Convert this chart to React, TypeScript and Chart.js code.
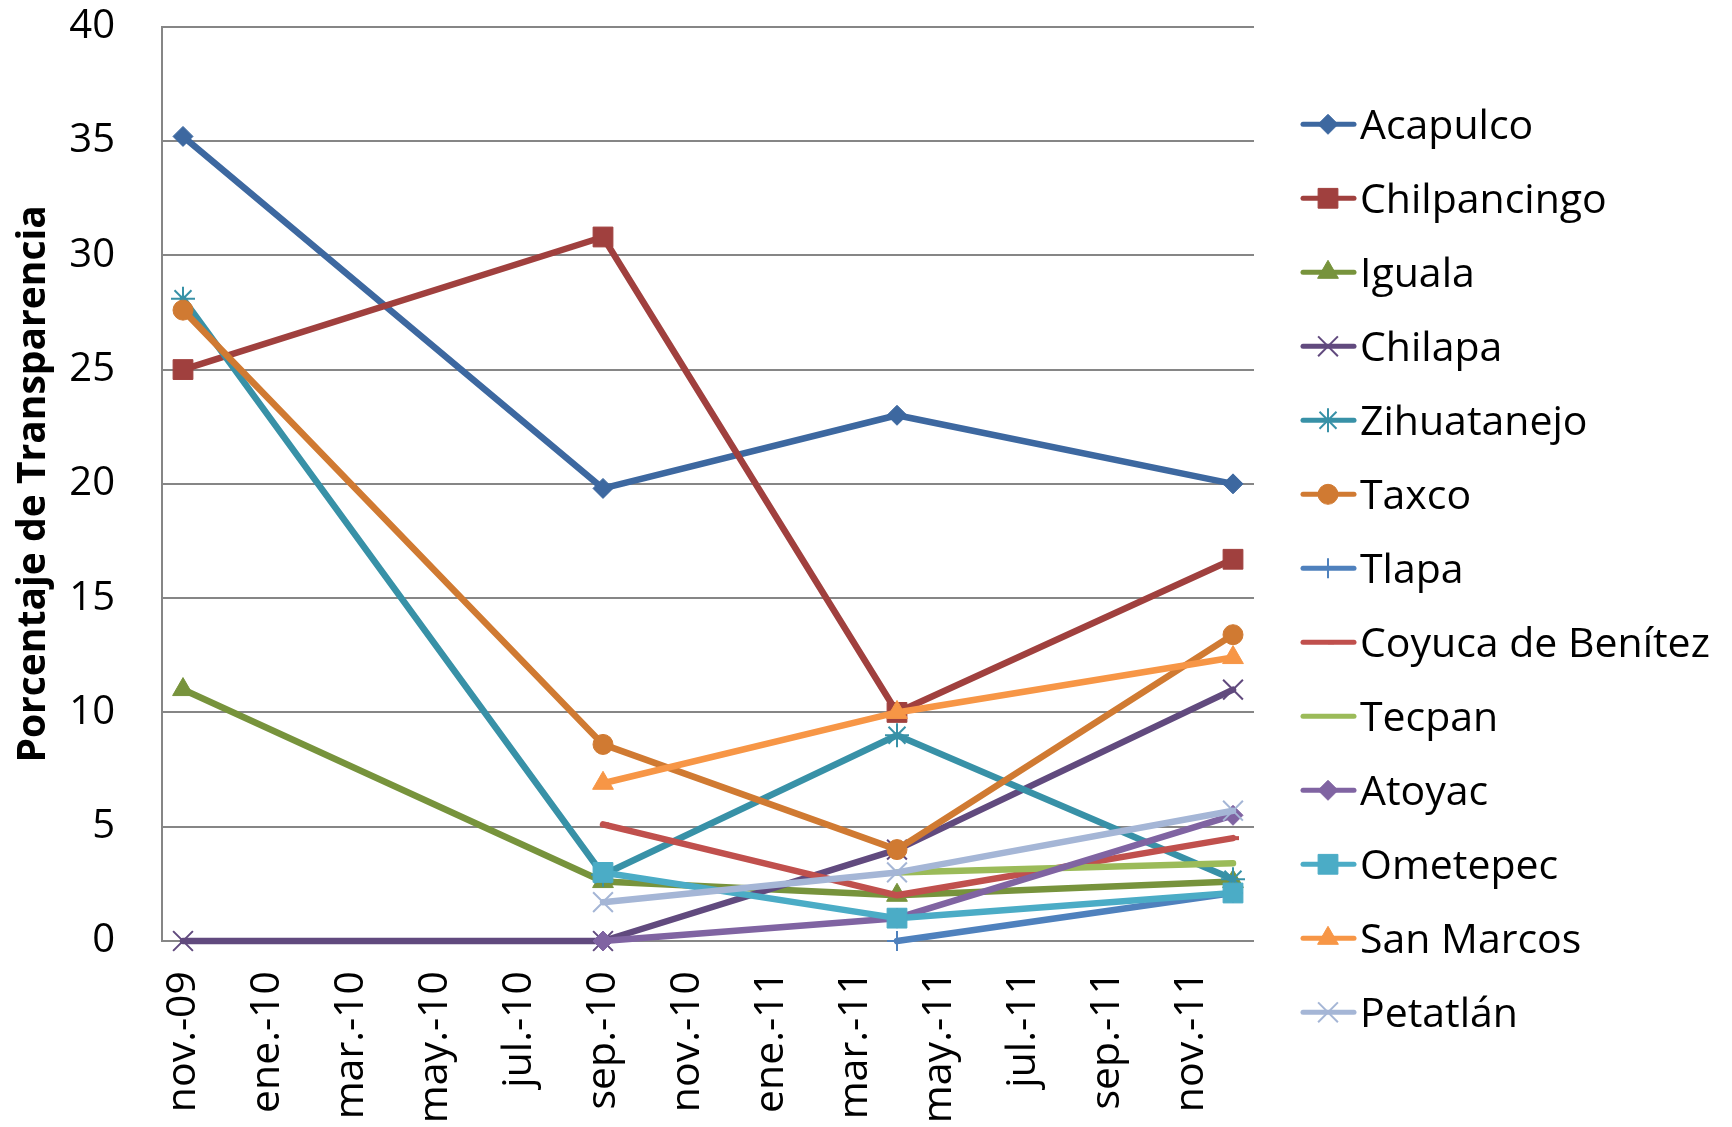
import React, { useEffect, useRef } from 'react';
import { Chart, registerables } from 'chart.js';
import { drawPoint } from 'chart.js/helpers';

Chart.register(...registerables);

// ---- data ----
const months = [
  'nov.-09', 'dic.-09', 'ene.-10', 'feb.-10', 'mar.-10', 'abr.-10', 'may.-10', 'jun.-10',
  'jul.-10', 'ago.-10', 'sep.-10', 'oct.-10', 'nov.-10', 'dic.-10', 'ene.-11', 'feb.-11',
  'mar.-11', 'abr.-11', 'may.-11', 'jun.-11', 'jul.-11', 'ago.-11', 'sep.-11', 'oct.-11',
  'nov.-11', 'dic.-11',
];
const surveyMonths = ['nov.-09', 'sep.-10', 'abr.-11', 'dic.-11'];

const seriesNames = [
  'Acapulco', 'Chilpancingo', 'Iguala', 'Chilapa', 'Zihuatanejo', 'Taxco', 'Tlapa',
  'Coyuca de Benítez', 'Tecpan', 'Atoyac', 'Ometepec', 'San Marcos', 'Petatlán',
];

const acapulco = [35.2, 19.8, 23.0, 20.0];
const chilpancingo = [25.0, 30.8, 10.0, 16.7];
const iguala = [11.0, 2.6, 2.0, 2.6];
const chilapa = [0, 0, 4.0, 11.0];
const zihuatanejo = [28.1, 2.9, 9.0, 2.7];
const taxco = [27.6, 8.6, 4.0, 13.4];
const tlapa = [null, null, 0, 2.1];
const coyuca = [null, 5.1, 2.0, 4.5];
const tecpan = [null, null, 3.0, 3.4];
const atoyac = [null, 0, 1.0, 5.5];
const ometepec = [null, 3.0, 1.0, 2.1];
const sanMarcos = [null, 6.9, 10.0, 12.4];
const petatlan = [null, 1.7, 3.0, 5.7];

const seriesValues: (number | null)[][] = [
  acapulco, chilpancingo, iguala, chilapa, zihuatanejo, taxco, tlapa,
  coyuca, tecpan, atoyac, ometepec, sanMarcos, petatlan,
];

const yTicks = [0, 5, 10, 15, 20, 25, 30, 35, 40];
const yTitle = 'Porcentaje de Transparencia';

// ---- styles ----
const seriesColors = [
  '#3D68A0', '#A0403E', '#77933C', '#614A7E', '#3891A7', '#D07A32', '#4F81BD',
  '#C0504D', '#9BBB59', '#8064A2', '#4BACC6', '#F79646', '#A5B6D6',
];
const seriesMarkers: { style: string; r: number; bw: number }[] = [
  { style: 'rectRot', r: 10, bw: 1 },
  { style: 'rect', r: 14, bw: 1 },
  { style: 'triangle', r: 12, bw: 1 },
  { style: 'crossRot', r: 14, bw: 2 },
  { style: 'star', r: 12, bw: 2 },
  { style: 'circle', r: 10, bw: 1 },
  { style: 'cross', r: 10, bw: 2 },
  { style: 'dash', r: 6, bw: 4 },
  { style: 'circle', r: 0, bw: 0 },
  { style: 'rectRot', r: 10, bw: 1 },
  { style: 'rect', r: 14, bw: 1 },
  { style: 'triangle', r: 12, bw: 1 },
  { style: 'crossRot', r: 14, bw: 2 },
];

const FONT = "'Open Sans', 'Noto Sans', sans-serif";
const GRID = '#868686';

const legendPlugin = {
  id: 'excelLegend',
  afterDraw(chart: any) {
    const ctx = chart.ctx as CanvasRenderingContext2D;
    chart.data.datasets.forEach((ds: any, i: number) => {
      const y = 124.3 + i * 74;
      const m = seriesMarkers[i];
      ctx.save();
      ctx.strokeStyle = ds.borderColor;
      ctx.lineWidth = 5;
      ctx.lineCap = 'round';
      ctx.beginPath();
      ctx.moveTo(1303, y);
      ctx.lineTo(1354, y);
      ctx.stroke();
      if (m.r > 0) {
        ctx.fillStyle = ds.borderColor;
        ctx.strokeStyle = ds.borderColor;
        ctx.lineWidth = m.bw;
        ctx.lineCap = 'butt';
        drawPoint(ctx, { pointStyle: m.style as any, radius: m.r, rotation: 0, borderWidth: m.bw }, 1328, y);
      }
      ctx.fillStyle = '#000';
      ctx.font = `41px ${FONT}`;
      ctx.textBaseline = 'alphabetic';
      ctx.textAlign = 'left';
      ctx.fillText(ds.label, 1360, y + 14.5);
      ctx.restore();
    });
  },
};

export default function App() {
  const ref = useRef<HTMLCanvasElement | null>(null);

  useEffect(() => {
    if (!ref.current) return;
    const datasets = seriesNames.map((name, i) => ({
      label: name,
      data: surveyMonths
        .map((m, j) => ({ x: m, y: seriesValues[i][j] }))
        .filter((p) => p.y !== null),
      borderColor: seriesColors[i],
      backgroundColor: seriesColors[i],
      borderWidth: 6.5,
      borderJoinStyle: 'round' as const,
      borderCapStyle: 'round' as const,
      pointStyle: seriesMarkers[i].style as any,
      pointRadius: seriesMarkers[i].r,
      pointHoverRadius: seriesMarkers[i].r,
      pointBorderWidth: seriesMarkers[i].bw,
      pointBackgroundColor: seriesColors[i],
      pointBorderColor: seriesColors[i],
      tension: 0,
      spanGaps: true,
      clip: false as any,
      order: seriesNames.length - i,
    }));

    const chart = new Chart(ref.current, {
      type: 'line',
      data: { labels: months, datasets },
      plugins: [legendPlugin],
      options: {
        animation: false,
        responsive: false,
        devicePixelRatio: 1,
        layout: { padding: { left: 0, top: 26.7, right: 478, bottom: 0 } },
        plugins: { legend: { display: false }, tooltip: { enabled: false }, title: { display: false } },
        scales: {
          x: {
            type: 'category',
            offset: true,
            grid: { display: false, drawTicks: false },
            border: { display: false },
            ticks: {
              autoSkip: false,
              maxRotation: 90,
              minRotation: 90,
              padding: 30,
              color: '#000',
              font: { family: FONT, size: 41 },
              callback: (_v: any, idx: number) => (idx % 2 === 0 ? months[idx] : ''),
            },
            afterFit: (scale: any) => {
              scale.height = 1127 - 941;
              scale.paddingLeft = 0;
              scale.paddingRight = 0;
            },
          },
          y: {
            min: 0,
            max: 40,
            afterBuildTicks: (scale: any) => {
              scale.ticks = yTicks.map((v) => ({ value: v }));
            },
            grid: { color: GRID, lineWidth: 2, drawTicks: false },
            border: { display: true, color: GRID, width: 2 },
            ticks: {
              padding: 47,
              color: '#000',
              font: { family: FONT, size: 40 },
            },
            title: {
              display: true,
              text: yTitle,
              color: '#000',
              font: { family: FONT, size: 39, weight: 'bold' },
              padding: { top: 10, bottom: 0 },
            },
            afterFit: (scale: any) => {
              scale.width = 162;
              scale.paddingTop = 0;
              scale.paddingBottom = 0;
            },
          },
        },
      },
    });
    return () => chart.destroy();
  }, []);

  return (
    <div style={{ position: 'fixed', left: 0, top: 0, width: 1732, height: 1127, background: '#fff' }}>
      <canvas ref={ref} width={1732} height={1127} style={{ width: 1732, height: 1127, display: 'block' }} />
    </div>
  );
}
